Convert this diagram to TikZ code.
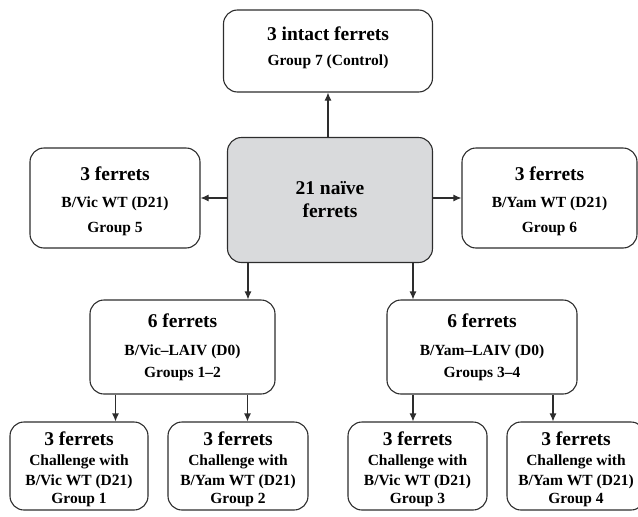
\documentclass[tikz,border=0pt]{standalone}
\usepackage{fontspec}
\setmainfont{Liberation Serif}
\usetikzlibrary{arrows.meta}

\definecolor{boxline}{RGB}{45,45,45}
\definecolor{boxgray}{RGB}{217,218,220}

\newcommand{\bigtxt}[1]{{\fontsize{19.5}{20}\selectfont #1}}
\newcommand{\smalltxt}[1]{{\fontsize{15.5}{20}\selectfont #1}}
\newcommand{\uptop}[1]{\rule{0pt}{#1}}
\newcommand{\downbot}[1]{\rule[-#1]{0pt}{#1}}

\tikzset{
  box/.style={draw=boxline, line width=1.1pt, rounded corners=14pt, align=center,
    font=\bfseries\fontsize{15.5}{20}\selectfont, inner sep=0pt},
  arr/.style={draw=boxline, line width=1.1pt, -{Latex[length=8pt,width=7pt]}}
}

\begin{document}
\begin{tikzpicture}[x=1pt,y=-1pt]
  \useasboundingbox (0,0) rectangle (638,517);

  % Define the groups
  \node[box, minimum width=209pt, minimum height=82pt] (G7) at (328,51)
    {\bigtxt{3 intact ferrets}\\[5pt] \smalltxt{Group 7 (Control)}\downbot{9.5pt}};

  \node[box, fill=boxgray, minimum width=205pt, minimum height=125pt] (N0) at (330,200)
    {\bigtxt{21 naïve}\\[3pt] \bigtxt{ferrets}};

  \node[box, minimum width=170pt, minimum height=100pt] (G5) at (115,198)
    {\uptop{20.5pt}\bigtxt{3 ferrets}\\[7pt] \smalltxt{B/Vic WT (D21)}\\[5pt] \smalltxt{Group 5}};
  \node[box, minimum width=175pt, minimum height=100pt] (G6) at (549.5,198)
    {\uptop{20.5pt}\bigtxt{3 ferrets}\\[7pt] \smalltxt{B/Yam WT (D21)}\\[5pt] \smalltxt{Group 6}};

  \node[box, minimum width=185pt, minimum height=94pt] (V1) at (182.5,347)
    {\bigtxt{6 ferrets}\\[8pt] \smalltxt{B/Vic--LAIV (D0)}\\[2pt] \smalltxt{Groups 1--2}};
  \node[box, minimum width=190pt, minimum height=94pt] (Y1) at (482,347)
    {\bigtxt{6 ferrets}\\[8pt] \smalltxt{B/Yam--LAIV (D0)}\\[2pt] \smalltxt{Groups 3--4}};

  \node[box, minimum width=138pt, minimum height=88pt] (G1) at (79,466)
    {\uptop{21pt}\bigtxt{3 ferrets}\\ \smalltxt{Challenge with}\\ \smalltxt{B/Vic WT (D21)}\\[-2pt] \smalltxt{Group 1}};
  \node[box, minimum width=140pt, minimum height=88pt] (G2) at (238,466)
    {\uptop{21pt}\bigtxt{3 ferrets}\\ \smalltxt{Challenge with}\\ \smalltxt{B/Yam WT (D21)}\\[-2pt] \smalltxt{Group 2}};
  \node[box, minimum width=139pt, minimum height=88pt] (G3) at (417.5,466)
    {\uptop{21pt}\bigtxt{3 ferrets}\\ \smalltxt{Challenge with}\\ \smalltxt{B/Vic WT (D21)}\\[-2pt] \smalltxt{Group 3}};
  \node[box, minimum width=138pt, minimum height=88pt] (G4) at (576,466)
    {\uptop{21pt}\bigtxt{3 ferrets}\\ \smalltxt{Challenge with}\\ \smalltxt{B/Yam WT (D21)}\\[-2pt] \smalltxt{Group 4}};

  % Draw arrows
  \draw[arr] ([xshift=-2pt]N0.north) -- ([xshift=-2pt]N0.north |- G7.south);
  \draw[arr] (N0.west |- G5.east) -- (G5.east);
  \draw[arr] (N0.east |- G6.west) -- (G6.west);

  \draw[arr] ([xshift=-82pt]N0.south) -- ([xshift=-82pt]N0.south |- V1.north);
  \draw[arr] ([xshift=83pt]N0.south) -- ([xshift=83pt]N0.south |- Y1.north);

  \draw[arr] ([xshift=-67pt]V1.south) -- ([xshift=-67pt]V1.south |- G1.north);
  \draw[arr] ([xshift=65pt]V1.south) -- ([xshift=65pt]V1.south |- G2.north);
  \draw[arr] ([xshift=-69pt]Y1.south) -- ([xshift=-69pt]Y1.south |- G3.north);
  \draw[arr] ([xshift=71pt]Y1.south) -- ([xshift=71pt]Y1.south |- G4.north);
\end{tikzpicture}
\end{document}
